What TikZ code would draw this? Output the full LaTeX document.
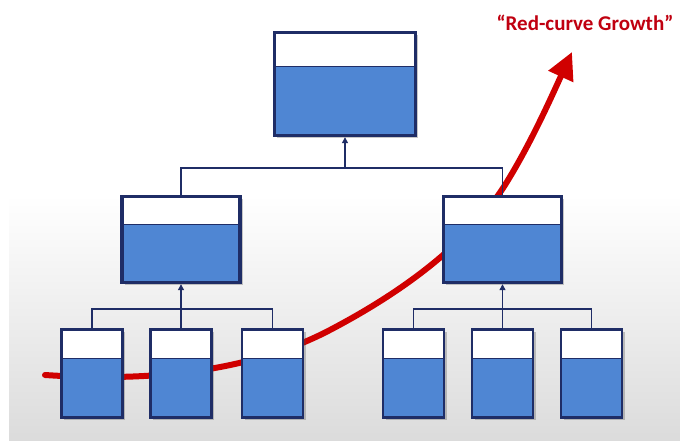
\documentclass[tikz,border=0pt]{standalone}
\usepackage{fontspec}
\setmainfont{Carlito}
\usetikzlibrary{arrows.meta,calc,shadows}
\definecolor{navy}{HTML}{1F2D66}
\definecolor{boxblue}{HTML}{4F86D3}
\definecolor{curvered}{HTML}{D00000}
\definecolor{labelred}{HTML}{C00010}
\tikzset{
  orgbox/.style={rectangle, draw=navy, fill=boxblue, line width=3.4pt, inner sep=0pt,
    drop shadow={shadow xshift=2.5pt, shadow yshift=-2.5pt, opacity=0.3, fill=black!70},
    path picture={
      \fill[white] (path picture bounding box.north west) rectangle
        ($(path picture bounding box.north east)!0.33!(path picture bounding box.south east)$);
      \draw[navy, line width=1.2pt]
        ($(path picture bounding box.north west)!0.33!(path picture bounding box.south west)$) --
        ($(path picture bounding box.north east)!0.33!(path picture bounding box.south east)$);
    }},
  bigbox/.style={orgbox, minimum width=141pt, minimum height=103pt},
  midbox/.style={orgbox, minimum width=118pt, minimum height=86pt},
  smallbox/.style={orgbox, line width=2.6pt, minimum width=61pt, minimum height=88pt},
  conn/.style={draw=navy, line width=1.2pt},
  upconn/.style={conn, -{Triangle[length=6pt,width=6pt]}},
  growth/.style={draw=curvered, line width=6pt, line cap=round,
    -{Triangle[length=27pt,width=26pt]}},
}
\begin{document}
\begin{tikzpicture}[x=1pt,y=-1pt]
  % canvas and the grey floor behind the lower rows
  \useasboundingbox (0,0) rectangle (680,441);
  \fill[white] (0,0) rectangle (680,441);
  \shade[top color=white, bottom color=black!14] (9,195) rectangle (680,441);

  % the growth curve runs behind the boxes
  \coordinate (cstart) at (45,375);
  \coordinate (cend) at (572,52);
  \draw[growth] (cstart) .. controls (150,382) and (250,372) .. (330,330)
    .. controls (410,288) and (470,240) .. (505,185)
    .. controls (530,145) and (550,100) .. (cend);

  % boxes
  \node[bigbox] (top) at (345,84) {};
  \node[midbox] (ml) at (181,239.5) {};
  \node[midbox] (mr) at (502.5,239.5) {};
  \node[smallbox] (b1) at (92,373.5) {};
  \node[smallbox] (b2) at (181,373.5) {};
  \node[smallbox] (b3) at (272.5,373.5) {};
  \node[smallbox] (b4) at (413.5,373.5) {};
  \node[smallbox] (b5) at (502.5,373.5) {};
  \node[smallbox] (b6) at (591.5,373.5) {};

  % junction points of the connector bars
  \coordinate (jt) at (345,168);
  \coordinate (jl) at (181,309);
  \coordinate (jr) at (502.5,309);

  % connectors
  \draw[conn] (ml.north) |- (jt) -| (mr.north);
  \draw[upconn] (jt) -- (top.south);
  \draw[conn] (b1.north) |- (jl) -| (b3.north);
  \draw[upconn] (b2.north) -- (ml.south);
  \draw[conn] (b4.north) |- (jr) -| (b6.north);
  \draw[upconn] (b5.north) -- (mr.south);

  % label
  \node[text=labelred, font=\bfseries\fontsize{21}{24}\selectfont, anchor=center] (label) at (585,23) {“Red-curve Growth”};
\end{tikzpicture}
\end{document}
